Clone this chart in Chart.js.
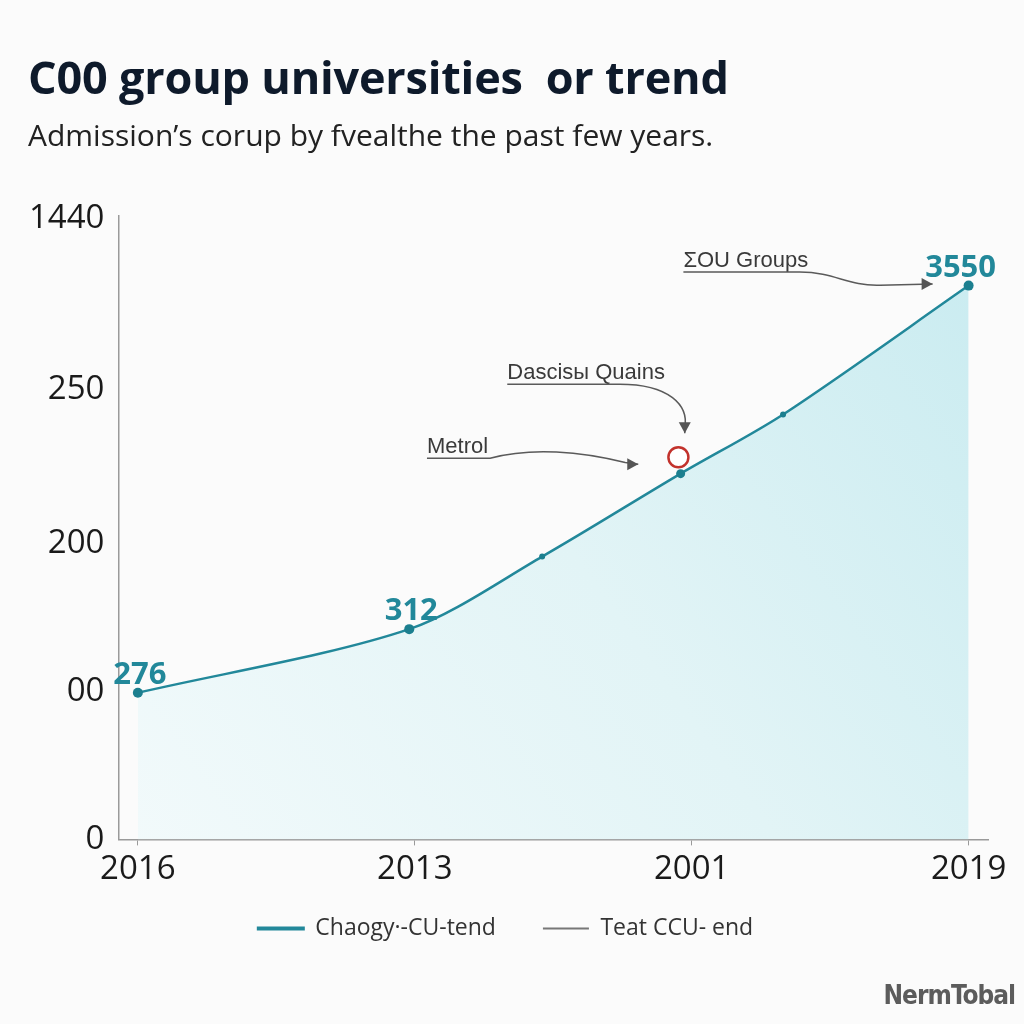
<!DOCTYPE html>
<html>
<head>
<meta charset="utf-8">
<script src="https://cdn.jsdelivr.net/npm/chart.js@4.4.1/dist/chart.umd.min.js"></script>
<style>
  html, body { margin: 0; padding: 0; background: #fbfbfb; }
  #wrap { position: relative; width: 1024px; height: 1024px; overflow: hidden; }
  #chart { position: absolute; left: 0; top: 0; }
  .title { position: absolute; left: 28px; top: 46px; margin: 0; font: 700 45px 'Open Sans', sans-serif; color: #0e1a2b; white-space: pre; letter-spacing: -0.2px; }
  .sub { position: absolute; left: 28px; top: 114px; margin: 0; font: 400 30px 'Open Sans', sans-serif; color: #222; white-space: pre; }
  .mark { position: absolute; right: 9px; top: 980px; font: 700 26px 'DejaVu Sans Condensed', 'DejaVu Sans', sans-serif; color: #5c5c5c; letter-spacing: -1px; }
</style>
</head>
<body>
<div id="wrap">
  <canvas id="chart" width="1024" height="1024"></canvas>
  <div class="title">C00 group universities  or trend</div>
  <div class="sub">Admission’s corup by fvealthe the past few years.</div>
  <div class="mark">NermTobal</div>
</div>
<script>
// tick labels
const years = ['2016', '2013', '2001', '2019'];
const yearTicks = [0, 1, 2, 3];
const yTickLabels = ['0', '00', '200', '250', '1440'];
const yTickValues = [0, 1, 2, 3.04, 4.19];

// series (in axis units)
const pointX = [0, 0.98, 1.46, 1.96, 2.33, 3];
const pointY = [0.99, 1.42, 1.91, 2.47, 2.87, 3.74];
const pointLabels = ['276', '312', '', '', '', '3550'];

const legendNames = ['Chaogy·-CU-tend', 'Teat CCU- end'];

const TEAL = '#22889a';
const GREY = '#777777';
const markerRadius = [5, 5, 3, 4.5, 3, 5];

// callouts, in axis units
const notes = [
  { text: 'ΣOU Groups', at: [1.97, 3.865], path: [[1.97, 3.831], [2.39, 3.831], [2.52, 3.831], [2.56, 3.736], [2.68, 3.743]], tip: [2.87, 3.75], dir: 'right' },
  { text: 'Dascisы Quains', at: [1.334, 3.108], path: [[1.334, 3.074], [1.74, 3.074], [1.92, 3.074], [1.99, 2.93], [1.975, 2.78]], tip: [1.975, 2.743], dir: 'down' },
  { text: 'Metrol', at: [1.044, 2.608], path: [[1.044, 2.574], [1.272, 2.574], [1.42, 2.65], [1.6, 2.62], [1.76, 2.545]], tip: [1.807, 2.534], dir: 'right' }
];
const ring = [1.952, 2.581];

const calloutPlugin = {
  id: 'callouts',
  afterDatasetsDraw(chart) {
    const { ctx } = chart;
    const xs = chart.scales.x, ys = chart.scales.y;
    const P = p => [xs.getPixelForValue(p[0]), ys.getPixelForValue(p[1])];
    ctx.save();

    // value labels
    const meta = chart.getDatasetMeta(0);
    ctx.font = '700 31px "Open Sans", sans-serif';
    ctx.fillStyle = TEAL;
    ctx.textAlign = 'center';
    ctx.textBaseline = 'bottom';
    meta.data.forEach((pt, i) => {
      if (!pointLabels[i]) return;
      const dx = i === meta.data.length - 1 ? -8 : 2;
      ctx.fillText(pointLabels[i], pt.x + dx, pt.y - 2);
    });

    // notes
    ctx.font = '22px "Liberation Sans", Arial, sans-serif';
    ctx.textAlign = 'left';
    ctx.textBaseline = 'alphabetic';
    notes.forEach(n => {
      const [tx, ty] = P(n.at);
      ctx.fillStyle = '#3a3a3a';
      ctx.fillText(n.text, tx, ty);
      const pts = n.path.map(P);
      const tip = P(n.tip);
      ctx.strokeStyle = '#5a5a5a';
      ctx.lineWidth = 1.5;
      ctx.beginPath();
      ctx.moveTo(pts[0][0], pts[0][1]);
      ctx.lineTo(pts[1][0], pts[1][1]);
      ctx.bezierCurveTo(pts[2][0], pts[2][1], pts[3][0], pts[3][1], pts[4][0], pts[4][1]);
      ctx.lineTo(tip[0], tip[1]);
      ctx.stroke();
      ctx.fillStyle = '#555';
      ctx.beginPath();
      if (n.dir === 'down') {
        ctx.moveTo(tip[0], tip[1]);
        ctx.lineTo(tip[0] - 6, tip[1] - 11);
        ctx.lineTo(tip[0] + 6, tip[1] - 11);
      } else {
        ctx.moveTo(tip[0], tip[1]);
        ctx.lineTo(tip[0] - 11, tip[1] - 6);
        ctx.lineTo(tip[0] - 11, tip[1] + 6);
      }
      ctx.closePath();
      ctx.fill();
    });

    // red ring
    const [rx, ry] = P(ring);
    ctx.beginPath();
    ctx.arc(rx, ry, 10, 0, Math.PI * 2);
    ctx.fillStyle = '#ffffff';
    ctx.fill();
    ctx.strokeStyle = '#c2322c';
    ctx.lineWidth = 2.5;
    ctx.stroke();
    ctx.restore();
  }
};

const tickFont = { family: 'Open Sans', size: 33 };

new Chart(document.getElementById('chart'), {
  type: 'line',
  data: {
    datasets: [
      {
        label: legendNames[0],
        data: pointX.map((x, i) => ({ x, y: pointY[i] })),
        borderColor: TEAL,
        borderWidth: 2.5,
        tension: 0.3,
        fill: 'origin',
        backgroundColor: c => {
          const a = c.chart.chartArea;
          if (!a) return 'rgba(200,235,240,0.6)';
          const g = c.chart.ctx.createLinearGradient(a.left, a.bottom, a.right, a.top);
          g.addColorStop(0, '#f2fafb');
          g.addColorStop(0.5, '#e2f4f6');
          g.addColorStop(1, '#c8ebf0');
          return g;
        },
        pointRadius: markerRadius,
        pointBackgroundColor: '#1c7f8f',
        pointBorderWidth: 0
      },
      {
        label: legendNames[1],
        data: [],
        borderColor: GREY,
        borderWidth: 2
      }
    ]
  },
  options: {
    responsive: false,
    animation: false,
    layout: { padding: { top: 216, left: 23, right: 36, bottom: 74 } },
    plugins: {
      tooltip: { enabled: false },
      legend: {
        position: 'bottom',
        labels: {
          font: { family: 'Open Sans', size: 23 },
          color: '#333',
          boxWidth: 46,
          boxHeight: 2,
          padding: 24,
          generateLabels: chart => chart.data.datasets.map((d, i) => ({
            text: i === 0 ? d.label + '\u2003' : d.label,
            fillStyle: d.borderColor,
            strokeStyle: d.borderColor,
            lineWidth: i === 0 ? 2 : 0,
            fontColor: '#333',
            datasetIndex: i
          }))
        }
      }
    },
    scales: {
      x: {
        type: 'linear',
        min: -0.07,
        max: 3.07,
        afterBuildTicks: axis => { axis.ticks = yearTicks.map(v => ({ value: v })); },
        ticks: { callback: (v, i) => years[i], font: tickFont, color: '#1a1a1a', padding: 4, maxRotation: 0 },
        grid: { drawOnChartArea: false, drawTicks: true, tickLength: 6, color: '#9a9a9a' },
        border: { display: true, color: '#9a9a9a', width: 1.5 }
      },
      y: {
        min: 0,
        max: 4.21,
        afterBuildTicks: axis => { axis.ticks = yTickValues.map(v => ({ value: v })); },
        ticks: { callback: (v, i) => yTickLabels[i], font: tickFont, color: '#1a1a1a', padding: 6 },
        grid: { display: false },
        border: { display: true, color: '#9a9a9a', width: 1.5 }
      }
    }
  },
  plugins: [calloutPlugin]
});
</script>
</body>
</html>
